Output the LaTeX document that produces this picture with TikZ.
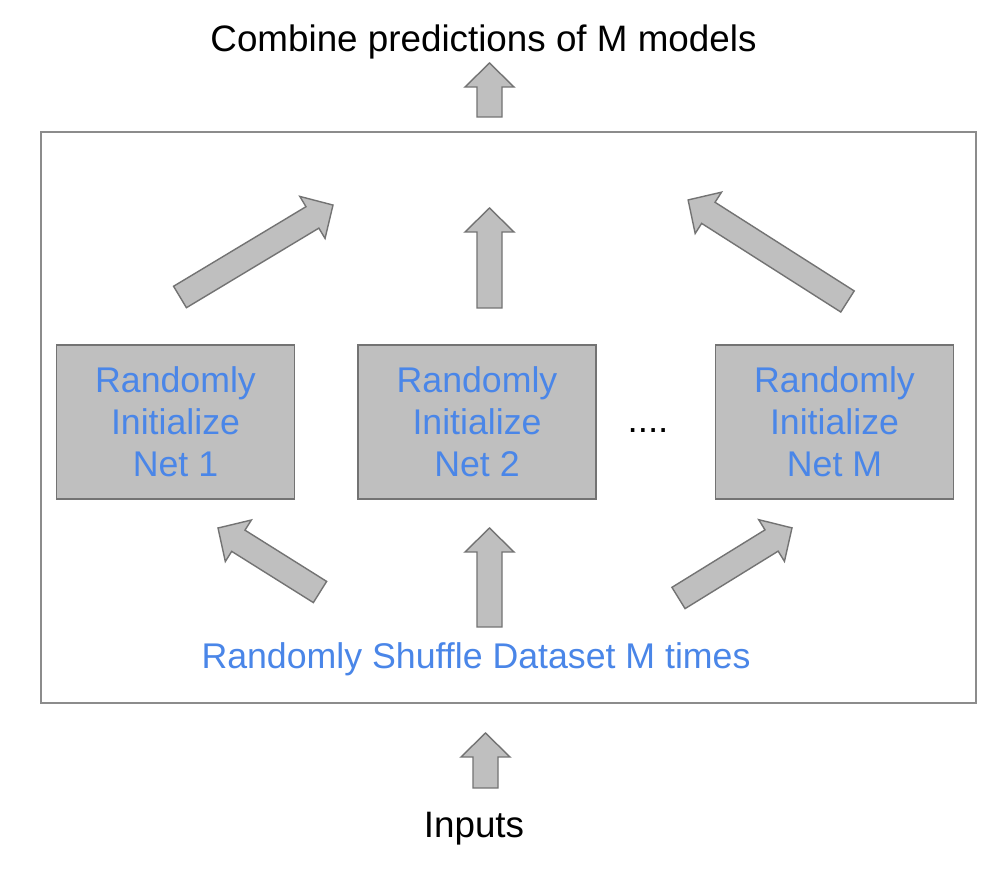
\documentclass[tikz,border=0pt]{standalone}
\usepackage{fontspec}
\setmainfont{Liberation Sans}
\definecolor{gblue}{HTML}{4A86E8}
\definecolor{boxfill}{HTML}{BFBFBF}
\definecolor{boxline}{HTML}{737373}
\definecolor{framecol}{HTML}{8C8C8C}
\newcommand\blockarr[3]{%
  \begin{scope}[shift={(#1)},rotate=#2]
    \draw[barrow] (0,-12.5) -- ({#3-24},-12.5) -- ({#3-24},-24.5) -- (#3,0)
      -- ({#3-24},24.5) -- ({#3-24},12.5) -- (0,12.5) -- cycle;
  \end{scope}}
\tikzset{
  barrow/.style={fill=boxfill, draw=boxline, line width=1.4pt, line join=miter},
  netbox/.style={draw=boxline, fill=boxfill, line width=1.3pt, minimum width=238pt,
    minimum height=154pt, inner sep=0pt, align=center, text=gblue,
    font=\fontsize{35.7}{42}\selectfont},
  bluetext/.style={text=gblue, font=\fontsize{35.7}{42}\selectfont, inner sep=0pt},
  blacktext/.style={text=black, font=\fontsize{36.8}{42}\selectfont, inner sep=0pt}
}
\begin{document}
\begin{tikzpicture}[x=1pt,y=1pt]
\useasboundingbox (0,0) rectangle (986,870);
\fill[white] (0,0) rectangle (986,870);
% frame
\draw[framecol, line width=1.2pt] (41,167) rectangle (976,738);
% boxes
\node[netbox] (net1) at (175.5,448) {Randomly\\Initialize\\Net 1};
\node[netbox, minimum height=154pt] (net2) at (477,448) {Randomly\\Initialize\\Net 2};
\node[netbox] (netM) at (834.5,448) {Randomly\\Initialize\\Net M};
\node[blacktext, anchor=base] (dots) at (648,437) {....};
% texts
\node[blacktext, anchor=base] (combine) at (483.5,818) {Combine predictions of M models};
\node[blacktext, anchor=base] (inputs) at (474,32) {Inputs};
\node[bluetext, anchor=base] (shuffle) at (476,201) {Randomly Shuffle Dataset M times};
% arrows
\blockarr{489.5,753}{90}{54}
\blockarr{485.5,82}{90}{55}
\blockarr{489.5,562}{90}{100}
\blockarr{489.5,243}{90}{99}
\blockarr{180,573}{31.0}{178.5}
\blockarr{847.5,568.5}{147.5}{189}
\blockarr{320,278}{147.9}{120.4}
\blockarr{678.5,272}{31.7}{133.4}
\end{tikzpicture}
\end{document}
